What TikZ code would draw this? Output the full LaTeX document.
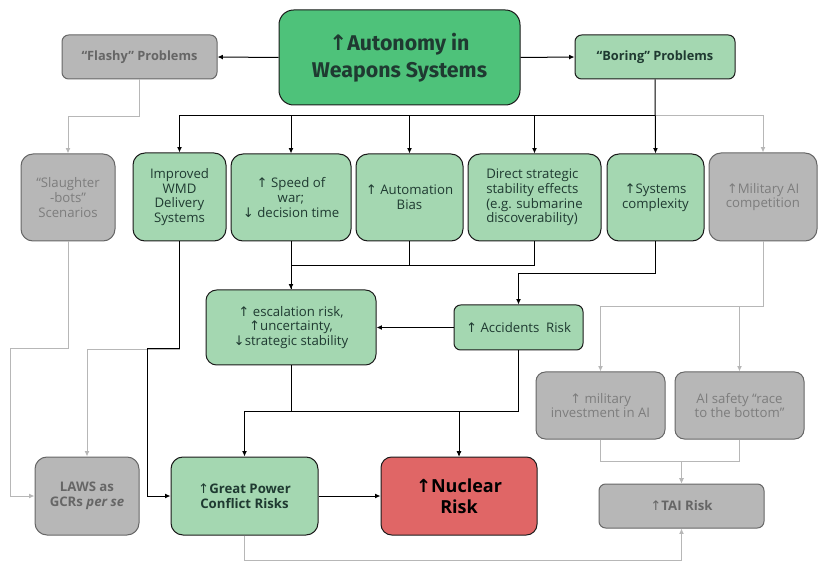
\documentclass[tikz,border=0pt]{standalone}
\usepackage{fontspec}
\setmainfont{Open Sans}
\newfontfamily\titlefont{Fira Sans}
\newfontfamily\arrfont{DejaVu Sans}
\newcommand\ua{{\arrfont ↑}}
\newcommand\da{{\arrfont ↓}}
\usetikzlibrary{arrows.meta,calc}
\definecolor{gmain}{HTML}{4EC27A}
\definecolor{lgreen}{HTML}{A4D7B1}
\definecolor{lgray}{HTML}{B7B7B7}
\definecolor{bgray}{HTML}{666666}
\definecolor{tgray}{HTML}{7D7D7D}
\definecolor{tgrayb}{HTML}{666666}
\definecolor{tdark}{HTML}{1F3A31}
\definecolor{bdark}{HTML}{1A1A1A}
\definecolor{nred}{HTML}{E06666}
\definecolor{lgray2}{HTML}{B7B7B7}
\newcommand\mybox[7]{\node[#6, minimum width={(#4-#2)*0.75pt}, minimum height={(#5-#3)*0.75pt}] (#1) at ({(#2+#4)/2},{(#3+#5)/2}) {#7};}
\tikzset{
  base/.style={rectangle, inner sep=2pt, align=center, line width=0.75pt},
  grn/.style={base, fill=lgreen, draw=bdark, text=tdark, rounded corners=9pt, font=\fontsize{9.9}{11}\selectfont},
  grnb/.style={grn, font=\fontsize{9.9}{11.5}\selectfont\bfseries},
  gry/.style={base, fill=lgray, draw=bgray, text=tgray, rounded corners=9pt, font=\fontsize{9.9}{11}\selectfont},
  gryb/.style={gry, text=tgrayb, font=\fontsize{9.9}{11.5}\selectfont\bfseries},
  mainbox/.style={base, fill=gmain, draw=bdark, text=tdark, rounded corners=11pt, font=\titlefont\fontsize{16}{20}\selectfont\bfseries},
  redbox/.style={base, fill=nred, draw=bdark, text=black, rounded corners=8pt, font=\fontsize{13.5}{16}\selectfont\bfseries},
  tip/.style={-{Latex[length=4pt,width=3.6pt]}},
  blk/.style={draw=black, line width=0.75pt},
  gl/.style={draw=lgray2, line width=0.75pt},
}
\begin{document}
\begin{tikzpicture}[x=0.75pt,y=-0.75pt]
\useasboundingbox (0,0) rectangle (840,574);
% nodes
\mybox{main}{279}{10}{520}{105}{mainbox}{\ua Autonomy in\\Weapons Systems}
\mybox{flashy}{62}{35}{217}{79}{gryb, rounded corners=5pt, font=\fontsize{9.6}{11}\selectfont\bfseries}{“Flashy” Problems}
\mybox{boring}{575}{35}{735}{79}{grnb, rounded corners=5pt, font=\fontsize{9.6}{11}\selectfont\bfseries}{“Boring” Problems}
\mybox{slaughter}{21}{154}{115}{241}{gry}{“Slaughter\\-bots”\\Scenarios}
\mybox{wmd}{133}{153}{226}{241}{grn}{Improved\\WMD\\Delivery\\Systems}
\mybox{speed}{231}{154}{351}{241}{grn}{\ua\ Speed of\\war;\\\da\ decision time}
\mybox{autob}{356}{154}{463}{241}{grn}{\ua\ Automation\\Bias}
\mybox{direct}{468}{154}{601}{241}{grn, align=left}{Direct strategic\\stability effects\\(e.g. submarine\\discoverability)}
\mybox{syscx}{607}{154}{704}{241}{grn}{\ua Systems\\complexity}
\mybox{milai}{709}{153}{817}{241}{gry}{\ua Military AI\\competition}
\mybox{esc}{206}{290}{376}{365}{grn, rounded corners=8pt}{\ua\ escalation risk,\\\ua uncertainty,\\\da strategic stability}
\mybox{acc}{454}{305}{583}{350}{grn, rounded corners=5pt}{\ua\ Accidents\ \ Risk}
\mybox{milinv}{536}{372}{665}{439}{gry, rounded corners=7pt}{\ua\ military\\investment in AI}
\mybox{aisafe}{675}{372}{804}{439}{gry, rounded corners=7pt}{AI safety “race\\to the bottom”}
\mybox{laws}{35}{457}{139}{535}{gryb}{LAWS as\\GCRs \textit{per se}}
\mybox{gp}{171}{457}{318}{535}{grnb}{{\mdseries\ua}Great Power\\Conflict Risks}
\mybox{nuc}{381}{457}{537}{535}{redbox}{\ua Nuclear\\Risk}
\mybox{tai}{599}{484}{764}{528}{gryb, rounded corners=5pt}{{\mdseries\ua}TAI Risk}
% top connectors
\draw[blk,tip] (main.west) -- (flashy.east);
\draw[blk,tip] (main.east) -- (boring.east -| boring.west);
\coordinate (bus) at (655,116);
\draw[gl,tip] (bus) -| (milai.north);
\draw[blk,tip] (boring.south) -- (syscx.north);
\foreach \n in {wmd,speed,autob,direct} \draw[blk,tip] (bus) -| (\n.north);
\draw[gl,tip] (flashy.south) -- ++(0,37) -| (slaughter.north);
% left side
\draw[gl,tip] (slaughter.south) |- (10,349) |- (laws.west);
\draw[gl,tip] (wmd.south) -- ++(0,108) -| (laws.north);
\draw[blk,tip] (wmd.south) |- (147,349) |- (gp.west);
% middle
\draw[blk,tip] (speed.south) -- (esc.north);
\draw[blk] (autob.south) -- ++(0,24) -| (esc.north);
\draw[blk] (direct.south) -- ++(0,24) -| (esc.north);
\draw[blk,tip] (syscx.south) -- ++(0,32) -| (acc.north);
\draw[blk,tip] (acc.west) -- (esc.east);
\draw[blk,tip] (esc.south) -- ++(0,46) -| (gp.north);
\draw[blk,tip] (esc.south) -- ++(0,46) -| (nuc.north);
\draw[blk,tip] (acc.south) -- ++(0,61) -| (nuc.north);
\draw[blk,tip] (gp.east) -- (nuc.west);
% right side
\draw[gl,tip] (milai.south) -- ++(0,65) -| (milinv.north);
\draw[gl,tip] (milai.south) -- ++(0,65) -| (aisafe.north);
\draw[gl,tip] (milinv.south) -- ++(0,22) -| (tai.north);
\draw[gl,tip] (aisafe.south) -- ++(0,22) -| (tai.north);
\draw[gl,tip] (gp.south) -- ++(0,25) -| (tai.south);
\end{tikzpicture}
\end{document}
